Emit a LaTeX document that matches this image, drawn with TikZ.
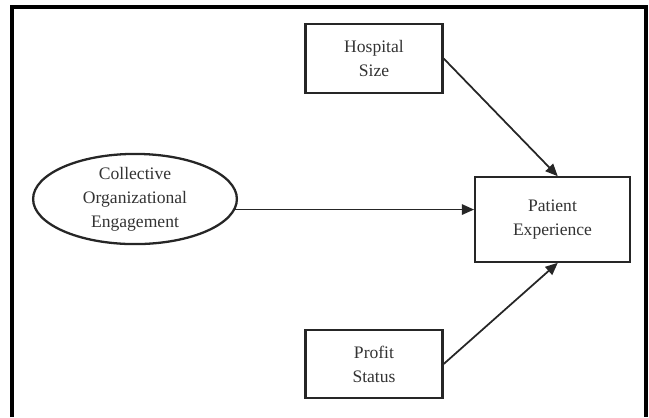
\documentclass[tikz,border=0pt]{standalone}
\usepackage{fontspec}
\setmainfont{Liberation Serif}
\usetikzlibrary{arrows.meta,shapes.geometric}

\begin{document}
\begin{tikzpicture}[
      box/.style={draw=black!85,line width=1.3pt,minimum width=78pt,
                  minimum height=39pt,align=center,text=black!80,
                  font=\fontsize{10}{13.6}\selectfont},
      oval/.style={draw=black!85,line width=1.3pt,ellipse,minimum width=116pt,
                   minimum height=45pt,inner sep=0pt,align=center,
                   text=black!80,font=\fontsize{10}{13.6}\selectfont},
      path/.style={line width=1pt,draw=black!85,
                   -{Triangle[length=7pt,width=6pt]}},
      x=0.02cm,y=-0.02cm]
    \useasboundingbox (0,0) rectangle (649,417);
    % frame, open at the bottom
    \draw[line width=1.9pt] (12,417) -- (12,7) -- (646,7) -- (646,417);
    \node[oval] (cog) at (135,199) {Collective\\Organizational\\Engagement};
    \node[box] (size) at (374,58.5) {Hospital\\Size};
    \node[box] (profit) at (374,364) {Profit\\Status};
    \node[box,minimum width=88pt,minimum height=48pt] (pe) at (552.5,219.5)
        {Patient\\Experience};
    \draw[path] (cog.-6) -- (cog.-6 -| pe.west);
    \draw[path] (size.east) -- ([xshift=3pt]pe.north);
    \draw[path] (profit.east) -- ([xshift=3pt]pe.south);
  \end{tikzpicture}
\end{document}
